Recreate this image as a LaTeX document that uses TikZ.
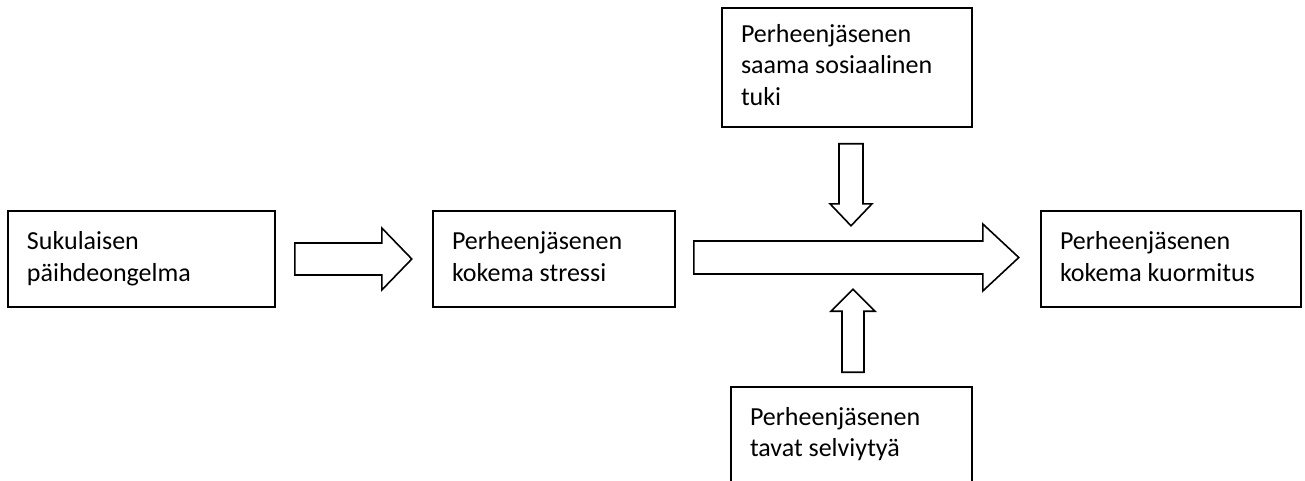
\documentclass[tikz,border=0pt]{standalone}
\usepackage{fontspec}
\setmainfont{Carlito}
\usetikzlibrary{calc}
\tikzset{laatikko/.style={draw,line width=1.6pt,align=flush left,inner xsep=19pt,font=\fontsize{26}{31.5}\selectfont,execute at begin node=\strut,execute at end node=\strut},
nuoli/.style={draw,line width=1.6pt,line join=miter}}
\begin{document}
\begin{tikzpicture}[x=1pt,y=-1pt]
\useasboundingbox (0,0) rectangle (1305,481);
\node[laatikko,text width=229pt,minimum height=96pt] (sukulainen) at (141.5,259) {Sukulaisen\\päihdeongelma};
\node[laatikko,text width=204pt,minimum height=96pt] (stressi) at (554,259) {Perheenjäsenen\\kokema stressi};
\node[laatikko,text width=222pt,minimum height=96pt] (kuormitus) at (1171,259) {Perheenjäsenen\\kokema kuormitus};
\node[laatikko,text width=212pt,minimum height=119pt] (tuki) at (847,67.5) {Perheenjäsenen\\saama sosiaalinen\\tuki};
\node[laatikko,text width=203pt,minimum height=95pt] (selviytyminen) at (851.5,434.5) {Perheenjäsenen\\tavat selviytyä};
\draw[nuoli] ($(sukulainen.east)+(19,-16)$)--++(87,0)--++(0,-15)--++(30,31)--++(-30,31)--++(0,-15)--++(-87,0)--cycle;
\draw[nuoli] ($(stressi.east)+(18,-18)$)--++(289,0)--++(0,-17)--++(36,33.5)--++(-36,33.5)--++(0,-17)--++(-289,0)--cycle;
\draw[nuoli] ($(tuki.south)+(-8,16)$)--++(24,0)--++(0,60)--++(9,0)--++(-21,22)--++(-21,-22)--++(9,0)--cycle;
\draw[nuoli] ($(selviytyminen.north)+(-9.5,-14)$)--++(22,0)--++(0,-61)--++(11,0)--++(-22,-22)--++(-22,22)--++(11,0)--cycle;
\end{tikzpicture}
\end{document}
